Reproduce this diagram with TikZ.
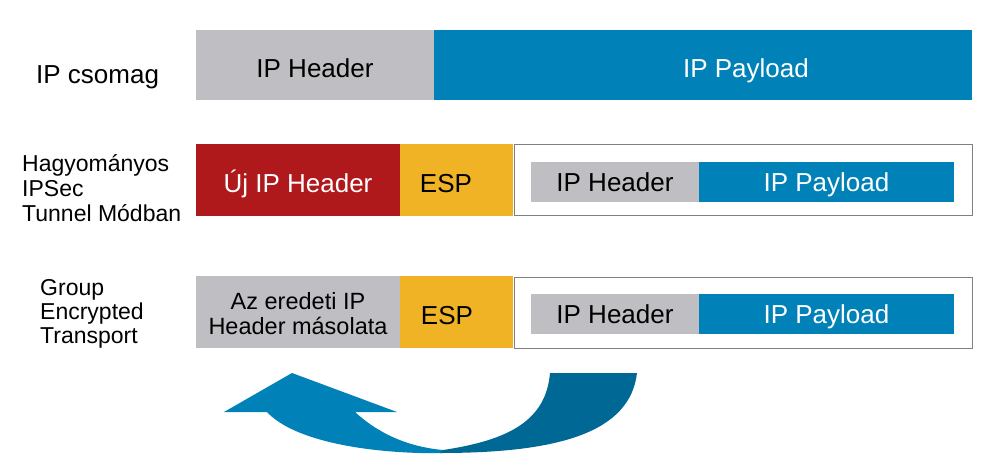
\documentclass[tikz,border=0pt]{standalone}
\usepackage{fontspec}
\setmainfont{Liberation Sans}
\definecolor{hgray}{HTML}{BFBEC3}
\definecolor{pblue}{HTML}{0082B8}
\definecolor{hred}{HTML}{B0191B}
\definecolor{espy}{HTML}{EFB325}
\definecolor{dblue}{HTML}{006894}
\definecolor{ogray}{HTML}{808080}
\tikzset{
  blk/.style={anchor=north west, inner sep=0pt, outer sep=0pt, font=\fontsize{26}{28}\selectfont, text height=24pt, text depth=0pt},
  iblk/.style={anchor=north west, inner sep=0pt, outer sep=0pt, font=\fontsize{26}{28}\selectfont, text height=18pt, text depth=0pt},
  lbl/.style={anchor=base west, inner sep=0pt, font=\fontsize{23}{25}\selectfont},
}
\begin{document}
\begin{tikzpicture}[x=1pt,y=-1pt]
\useasboundingbox (0,0) rectangle (999,471);
% Row 1
\node[lbl, font=\fontsize{26}{28}\selectfont] (l1) at (36,83) {IP csomag};
\node[blk, fill=hgray, minimum width=238pt, minimum height=70pt] (h1) at (196,30) {IP Header};
\node[anchor=north west, inner sep=0pt, fill=pblue, minimum width=538pt, minimum height=70pt] (p1) at (434,30) {};
\node[font=\fontsize{26}{28}\selectfont, text=white, anchor=base, inner sep=0pt] (p1t) at (746,77) {IP Payload};
% Row 2
\node[lbl] (l2a) at (22,171) {Hagyományos};
\node[lbl] (l2b) at (22,196) {IPSec};
\node[lbl] (l2c) at (22,221) {Tunnel Módban};
\node[blk, fill=hred, text=white, minimum width=204pt, minimum height=72pt] (n2) at (196,144) {Új IP Header};
\node[anchor=north west, inner sep=0pt, fill=espy, minimum width=113pt, minimum height=72pt] (e2) at (400,144) {};
\node[font=\fontsize{26}{28}\selectfont, anchor=base, inner sep=0pt] (e2t) at (446,192) {ESP};
\node[anchor=north west, inner sep=0pt, draw=ogray, line width=1pt, minimum width=458pt, minimum height=71pt] (o2) at (513.5,144) {};
\node[iblk, fill=hgray, minimum width=168pt, minimum height=40pt] (h2) at (531,162) {IP Header};
\node[iblk, fill=pblue, text=white, minimum width=255pt, minimum height=40pt] (p2) at (699,162) {IP Payload};
% Row 3
\node[lbl] (l3a) at (40,295) {Group};
\node[lbl] (l3b) at (40,319) {Encrypted};
\node[lbl] (l3c) at (40,343) {Transport};
\node[anchor=north west, inner sep=0pt, fill=hgray, minimum width=204pt, minimum height=72pt] (c3) at (196,276) {};
\node[font=\fontsize{23.5}{26}\selectfont, align=center, inner sep=0pt] (c3t) at (298,313.5) {Az eredeti IP\\[-1pt]Header másolata};
\node[anchor=north west, inner sep=0pt, fill=espy, minimum width=113pt, minimum height=72pt] (e3) at (400,276) {};
\node[font=\fontsize{26}{28}\selectfont, anchor=base, inner sep=0pt] (e3t) at (447,324) {ESP};
\node[anchor=north west, inner sep=0pt, draw=ogray, line width=1pt, minimum width=458pt, minimum height=71pt] (o3) at (513.5,276.5) {};
\node[iblk, fill=hgray, minimum width=168pt, minimum height=40pt] (h3) at (531,294) {IP Header};
\node[iblk, fill=pblue, text=white, minimum width=255pt, minimum height=40pt] (p3) at (699,294) {IP Payload};
% Curved arrow
\fill[pblue] (267,412) -- (224,412) -- (292,373) -- (397,412) -- (355,412)
  .. controls (380,435) and (410,447) .. (443,450) -- (443,453) -- (420,453)
  .. controls (350,451) and (290,437) .. (267,412) -- cycle;
\fill[dblue] (443,450) .. controls (510,440) and (546,420) .. (550,373) -- (637,373)
  .. controls (630,432) and (560,453) .. (440,453) -- cycle;
\end{tikzpicture}
\end{document}
